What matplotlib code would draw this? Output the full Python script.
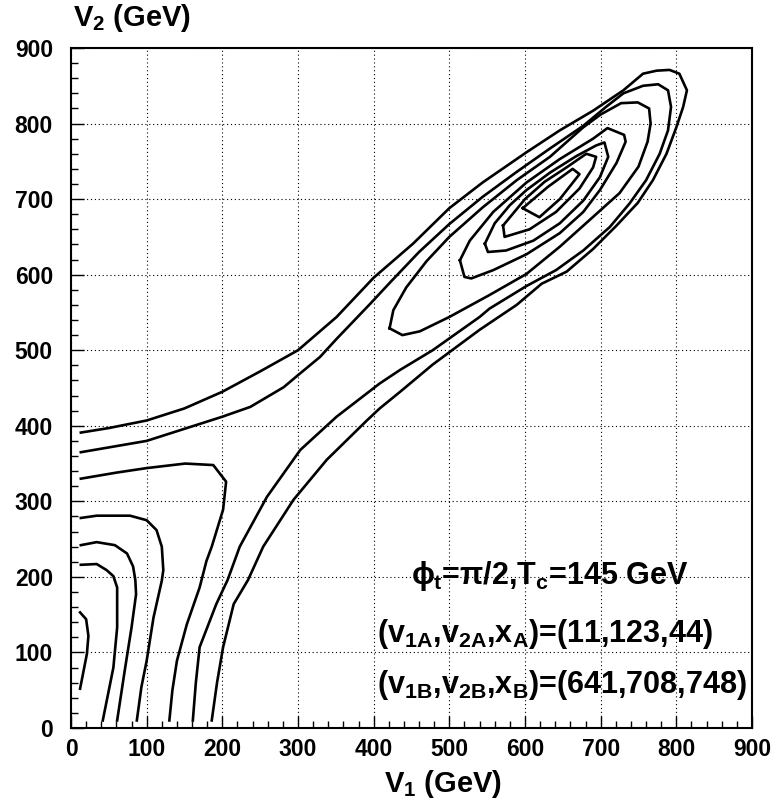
import matplotlib
matplotlib.use("Agg")
import matplotlib.pyplot as plt
from matplotlib.ticker import MultipleLocator

# contour lines, (V1, V2) in GeV
# open lines, left edge -> around the upper-right minimum -> bottom edge
A_v1 = [13, 50, 100, 150, 200, 250, 300, 351, 400, 452, 500, 544, 602, 646, 690, 730, 756, 774, 791, 804,
        814, 809, 800, 787, 769, 749, 721, 690, 655, 622, 589, 540, 478, 435, 408, 391, 338, 294, 254, 234,
        215, 201, 193, 186]
A_v2 = [391, 397, 407, 423, 445, 472, 500, 544, 596, 641, 688, 722, 762, 791, 817, 844, 866, 870, 871, 866,
        844, 822, 795, 760, 725, 695, 665, 634, 604, 588, 560, 527, 481, 445, 423, 407, 355, 302, 240, 196,
        164, 107, 60, 10]
B_v1 = [13, 100, 200, 237, 281, 300, 329, 351, 395, 422, 460, 500, 544, 589, 633, 677, 707, 730, 756, 776,
        789, 793, 789, 778, 760, 738, 712, 677, 641, 602, 553, 540, 478, 435, 408, 351, 303, 259, 223, 207,
        192, 170, 165, 161]
B_v2 = [365, 380, 412, 425, 451, 467, 491, 515, 561, 590, 630, 667, 703, 736, 767, 797, 822, 840, 850, 852,
        844, 822, 791, 760, 725, 694, 663, 632, 606, 585, 555, 544, 500, 474, 456, 412, 368, 306, 240, 196,
        164, 107, 60, 10]
# open lines around the minimum near the origin
H_v1 = [13, 60, 100, 151, 188, 205, 201, 186, 179, 170, 153, 140, 134, 130]
H_v2 = [330, 338, 344, 350, 348, 326, 289, 240, 221, 186, 137, 89, 50, 10]
I_v1 = [13, 34, 78, 100, 113, 120, 122, 120, 109, 100, 93, 87]
I_v2 = [278, 281, 281, 275, 262, 240, 209, 195, 146, 89, 54, 10]
J_v1 = [13, 34, 58, 74, 82, 85, 86, 80, 71, 61]
J_v2 = [242, 246, 242, 231, 214, 196, 177, 133, 76, 10]
K_v1 = [13, 34, 47, 56, 61, 61, 56, 42]
K_v2 = [216, 217, 209, 201, 186, 133, 80, 10]
L_v1 = [12, 20, 23, 21, 12]
L_v2 = [153, 144, 122, 98, 52]
# closed lines around the upper-right minimum
C_v1 = [421, 438, 461, 500, 553, 602, 646, 685, 725, 750, 762, 766, 764, 749, 727, 700, 677, 633, 589, 544,
        500, 470, 443, 426, 421]
C_v2 = [529, 520, 525, 544, 573, 601, 637, 672, 708, 743, 776, 800, 820, 828, 827, 812, 795, 756, 725, 689,
        650, 618, 583, 553, 529]
D_v1 = [514, 520, 529, 558, 602, 646, 677, 699, 721, 733, 731, 709, 690, 646, 602, 558, 527, 514]
D_v2 = [619, 597, 595, 606, 627, 655, 683, 712, 748, 776, 785, 794, 780, 753, 722, 683, 645, 619]
E_v1 = [547, 551, 575, 611, 646, 677, 699, 710, 705, 694, 668, 633, 602, 580, 560, 547]
E_v2 = [641, 630, 632, 645, 668, 698, 729, 756, 775, 771, 757, 735, 712, 692, 668, 641]
F_v1 = [571, 573, 606, 641, 672, 690, 694, 681, 655, 626, 600, 571]
F_v2 = [665, 650, 660, 683, 714, 742, 756, 760, 742, 723, 700, 665]
G_v1 = [597, 619, 646, 672, 663, 630, 597]
G_v2 = [688, 676, 700, 733, 740, 716, 688]

lines = [(A_v1, A_v2), (B_v1, B_v2), (H_v1, H_v2), (I_v1, I_v2), (J_v1, J_v2), (K_v1, K_v2),
         (L_v1, L_v2), (C_v1, C_v2), (D_v1, D_v2), (E_v1, E_v2), (F_v1, F_v2), (G_v1, G_v2)]

notes = [r"$\phi_t$=$\pi$/2,T$_c$=145 GeV",
         r"(v$_{1A}$,v$_{2A}$,x$_A$)=(11,123,44)",
         r"(v$_{1B}$,v$_{2B}$,x$_B$)=(641,708,748)"]
notes_v1 = [450, 405, 405]
notes_v2 = [191, 114, 46]

plt.rcParams['font.family'] = 'Liberation Sans'
plt.rcParams['font.weight'] = 'bold'
plt.rcParams['mathtext.fontset'] = 'custom'
plt.rcParams['mathtext.rm'] = 'Liberation Sans:bold'
plt.rcParams['mathtext.it'] = 'Liberation Sans:bold'
plt.rcParams['mathtext.bf'] = 'Liberation Sans:bold'

fig = plt.figure(figsize=(7.75, 8.1), dpi=100)
ax = fig.add_axes([71 / 775, 1 - 728 / 810, 681 / 775, 680 / 810])

for xs, ys in lines:
    ax.plot(xs, ys, color="black", lw=1.9)

ax.set_xlim(0, 900)
ax.set_ylim(0, 900)
ax.xaxis.set_major_locator(MultipleLocator(100))
ax.yaxis.set_major_locator(MultipleLocator(100))
ax.xaxis.set_minor_locator(MultipleLocator(20))
ax.yaxis.set_minor_locator(MultipleLocator(20))
ax.grid(True, which="major", color="black", lw=0.8, linestyle=(0, (1, 2.5)))
ax.tick_params(which="both", direction="in", top=False, right=False, width=1)
ax.tick_params(which="major", length=9, labelsize=16.5)
ax.tick_params(axis="y", which="major", pad=13)
ax.tick_params(axis="x", which="major", pad=7)
ax.tick_params(which="minor", length=5)
for s in ax.spines.values():
    s.set_linewidth(1.5)

fig.text(73 / 775, 1 - 26 / 810, "V$_2$ (GeV)", fontsize=21, ha="left", va="baseline")
fig.text(502 / 775, 1 - 792 / 810, "V$_1$ (GeV)", fontsize=21, ha="right", va="baseline")

for txt, x, y in zip(notes, notes_v1, notes_v2):
    ax.text(x, y, txt, fontsize=22, ha="left", va="baseline")

fig.savefig("out.png", dpi=100)
